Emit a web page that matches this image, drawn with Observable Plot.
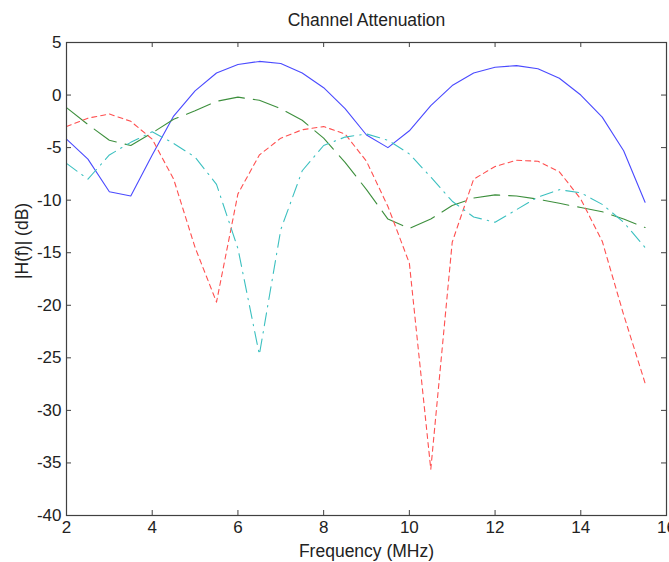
<!DOCTYPE html>
<html><head><meta charset="utf-8">
<script src="https://cdn.jsdelivr.net/npm/d3@7"></script>
<script src="https://cdn.jsdelivr.net/npm/@observablehq/plot@0.6"></script>
<style>html,body{margin:0;padding:0;background:#fff;overflow:hidden}</style>
</head><body><div id="chart"></div>
<script>
const freq = [2,2.5,3,3.5,4,4.5,5,5.5,6,6.5,7,7.5,8,8.5,9,9.5,10,10.5,11,11.5,12,12.5,13,13.5,14,14.5,15,15.5];
const chBlue  = [-4.2,-6.1,-9.2,-9.6,-5.7,-2.0,0.4,2.1,2.9,3.2,3.0,2.1,0.7,-1.3,-3.8,-5.0,-3.4,-1.0,0.9,2.1,2.65,2.8,2.5,1.6,0.0,-2.1,-5.3,-10.2];
const chGreen = [-1.2,-2.8,-4.3,-4.8,-3.6,-2.3,-1.5,-0.6,-0.2,-0.5,-1.3,-2.4,-4.1,-6.4,-9.0,-11.8,-12.7,-11.8,-10.5,-9.8,-9.5,-9.6,-9.9,-10.3,-10.7,-11.1,-11.8,-12.6];
const chRed   = [-3.0,-2.2,-1.8,-2.5,-4.2,-8.0,-14.5,-19.7,-9.4,-5.7,-4.1,-3.3,-3.0,-3.7,-6.3,-10.6,-16.0,-35.6,-14.0,-8.0,-6.8,-6.2,-6.3,-7.3,-9.9,-13.9,-20.9,-27.4];
const chCyan  = [-6.5,-8.0,-5.7,-4.5,-3.5,-4.6,-5.9,-8.5,-14.6,-24.7,-12.8,-7.2,-4.8,-4.0,-3.7,-4.3,-5.6,-7.8,-10.1,-11.6,-12.1,-10.9,-9.7,-9.0,-9.3,-10.4,-12.1,-14.5];
const xTicks = [2,4,6,8,10,12,14,16];
const yTicks = [5,0,-5,-10,-15,-20,-25,-30,-35,-40];
const titleText = "Channel Attenuation";
const xLabel = "Frequency (MHz)";
const yLabel = "|H(f)| (dB)";

const W = 669, H = 562, mt = 42, mb = 47, ml = 66, mr = 3;
const innerH = H - mt - mb, innerW = W - ml - mr;
const pts = v => freq.map((f, i) => ({f, v: v[i]}));
const axisColor = "#404040";
const font = "'Liberation Sans', Arial, Helvetica, sans-serif";
const fmt = d => String(d);

const chart = Plot.plot({
  width: W, height: H,
  marginTop: mt, marginBottom: mb, marginLeft: ml, marginRight: mr,
  style: {fontFamily: font, fontSize: "17px", color: "#222", background: "#fff"},
  x: {domain: [2, 16], ticks: xTicks},
  y: {domain: [-40, 5], ticks: yTicks},
  marks: [
    Plot.line(pts(chBlue),  {x: "f", y: "v", stroke: "#4a4aff", strokeWidth: 1.1}),
    Plot.line(pts(chGreen), {x: "f", y: "v", stroke: "#3d8f3d", strokeWidth: 1.1, strokeDasharray: "26,9"}),
    Plot.line(pts(chRed),   {x: "f", y: "v", stroke: "#ff5050", strokeWidth: 1.1, strokeDasharray: "5,4"}),
    Plot.line(pts(chCyan),  {x: "f", y: "v", stroke: "#3cc0c0", strokeWidth: 1.1, strokeDasharray: "13,6,1.5,6"}),
    Plot.frame({stroke: axisColor, strokeWidth: 1.2}),
    Plot.tickX(xTicks, {x: d => d, insetTop: innerH - 5, stroke: axisColor}),
    Plot.tickX(xTicks, {x: d => d, insetBottom: innerH - 5, stroke: axisColor}),
    Plot.tickY(yTicks, {y: d => d, insetRight: innerW - 5, stroke: axisColor}),
    Plot.tickY(yTicks, {y: d => d, insetLeft: innerW - 5, stroke: axisColor}),
    Plot.axisX(xTicks, {anchor: "bottom", tickSize: 0, tickPadding: 5, tickFormat: fmt, label: null, fontSize: 17, fill: "#222"}),
    Plot.axisY(yTicks, {anchor: "left", tickSize: 0, tickPadding: 5, tickFormat: fmt, label: null, fontSize: 17, fill: "#222"}),
    Plot.text([titleText], {frameAnchor: "top", lineAnchor: "middle", dy: -22, fontSize: 17.5, fill: "#222"}),
    Plot.text([xLabel], {frameAnchor: "bottom", lineAnchor: "middle", dy: 36, fontSize: 17.5, fill: "#222"}),
    Plot.text([yLabel], {frameAnchor: "left", lineAnchor: "middle", dx: -44, rotate: -90, fontSize: 17.5, fill: "#222"})
  ]
});
document.getElementById("chart").appendChild(chart);
</script></body></html>
